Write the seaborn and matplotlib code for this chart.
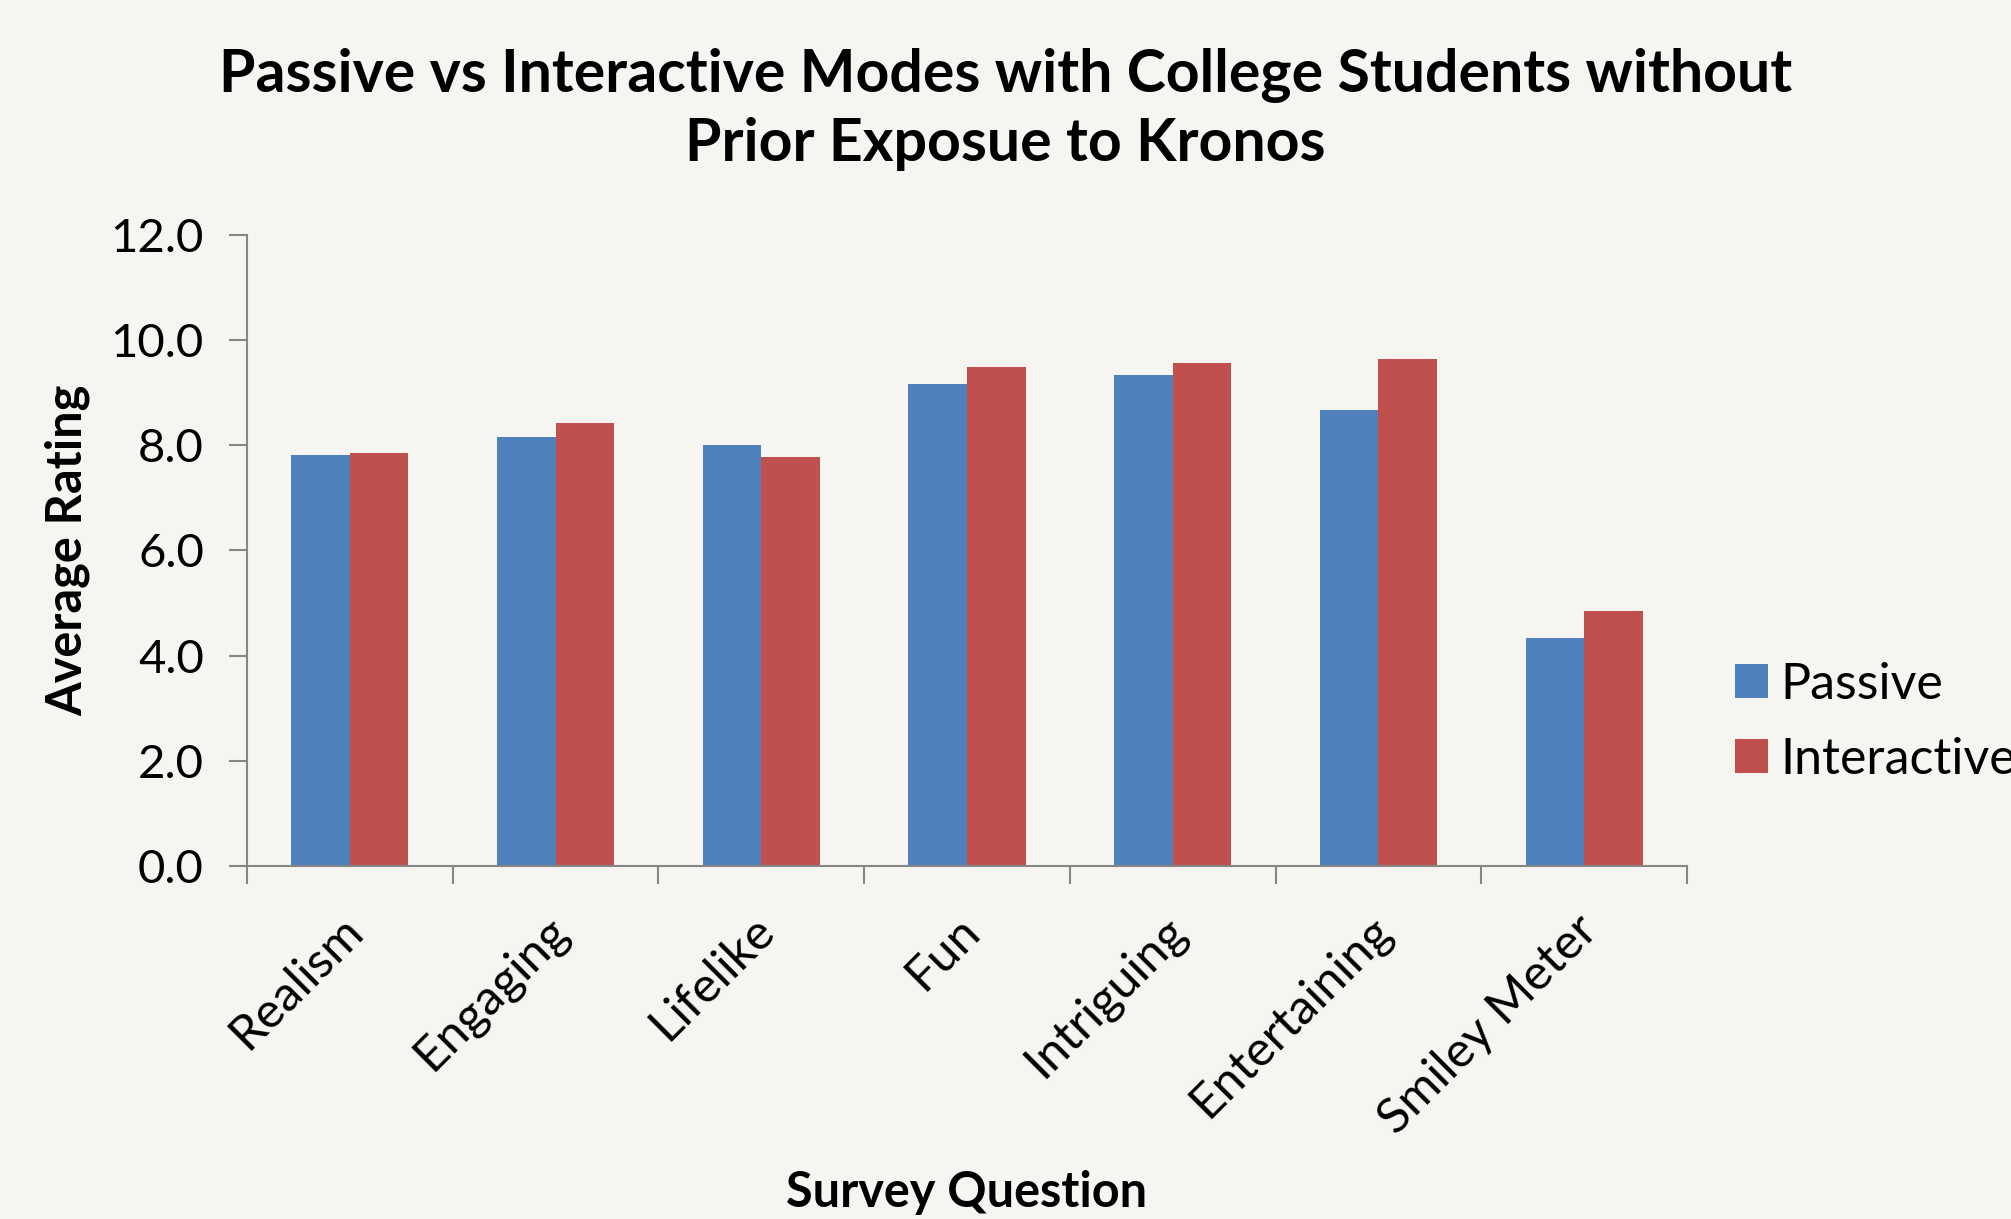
import matplotlib
matplotlib.use("Agg")
import matplotlib.pyplot as plt
import matplotlib.transforms as mtransforms
import seaborn as sns
import pandas as pd

categories = ["Realism", "Engaging", "Lifelike", "Fun", "Intriguing", "Entertaining", "Smiley Meter"]
passive = [7.82, 8.15, 8.00, 9.17, 9.33, 8.66, 4.33]
interactive = [7.85, 8.42, 7.78, 9.49, 9.56, 9.64, 4.84]
series_names = ["Passive", "Interactive"]
y_ticks = [0, 2, 4, 6, 8, 10, 12]

df = pd.DataFrame({
    "Survey Question": categories * 2,
    "Average Rating": passive + interactive,
    "Mode": [series_names[0]] * len(categories) + [series_names[1]] * len(categories),
})

sns.set_theme(style="white")
plt.rcParams["font.family"] = ["Lato", "DejaVu Sans"]
plt.rcParams["text.color"] = "black"
plt.rcParams["axes.labelcolor"] = "black"
bg = "#f6f5f1"
axis_col = "#868686"

fig = plt.figure(figsize=(20.11, 12.19), dpi=100, facecolor=bg)
ax = fig.add_axes([0.1228, 0.2896, 0.8389 - 0.1228, 0.8074 - 0.2896])
ax.set_facecolor(bg)

sns.barplot(data=df, x="Survey Question", y="Average Rating", hue="Mode",
            palette=["#4F81BD", "#C0504D"], width=0.57, ax=ax,
            saturation=1, edgecolor="none", linewidth=0)

ax.set_ylim(0, 12)
ax.set_xlim(-0.5, len(categories) - 0.5)
ax.set_yticks(y_ticks)
ax.set_yticklabels([f"{v:.1f}" for v in y_ticks], fontsize=34, color="black")
ax.set_xticks(range(len(categories)))
ax.set_xticklabels(categories, rotation=45, ha="right", rotation_mode="anchor",
                   fontsize=35.5, color="black")
ax.tick_params(axis="x", length=0, pad=30)
ax.tick_params(axis="y", length=13, width=1.5, color=axis_col, pad=18, direction="out", left=True)

shift = mtransforms.ScaledTranslation(-10 / 100, 0, fig.dpi_scale_trans)
for lbl in ax.get_xticklabels():
    lbl.set_transform(lbl.get_transform() + shift)

# category boundary ticks on x axis
ax.set_xticks([i - 0.5 for i in range(len(categories) + 1)], minor=True)
ax.tick_params(axis="x", which="minor", length=13, width=1.5, color=axis_col, direction="out", bottom=True)

for s in ["top", "right"]:
    ax.spines[s].set_visible(False)
for s in ["left", "bottom"]:
    ax.spines[s].set_color(axis_col)
    ax.spines[s].set_linewidth(1.5)

ax.set_xlabel("Survey Question", fontsize=35, fontweight="bold", labelpad=0, va="center")
ax.xaxis.set_label_coords(0.5, -0.518)
ax.set_ylabel("Average Rating", fontsize=35, fontweight="bold", va="center")
ax.yaxis.set_label_coords(-0.1247, 0.5)

fig.text(0.5, 0.91, "Passive vs Interactive Modes with College Students without\nPrior Exposue to Kronos",
         fontsize=42.5, fontweight="bold", ha="center", va="center", linespacing=1.33)

leg = ax.legend(loc="center left", bbox_to_anchor=(1.033, 0.228), frameon=False,
                fontsize=36, handlelength=0.66, handleheight=0.66, handletextpad=0.26,
                labelspacing=0.58, borderaxespad=0, borderpad=0, title=None)
for t in leg.get_texts():
    t.set_color("black")

fig.savefig("out.png", dpi=100, facecolor=bg)
